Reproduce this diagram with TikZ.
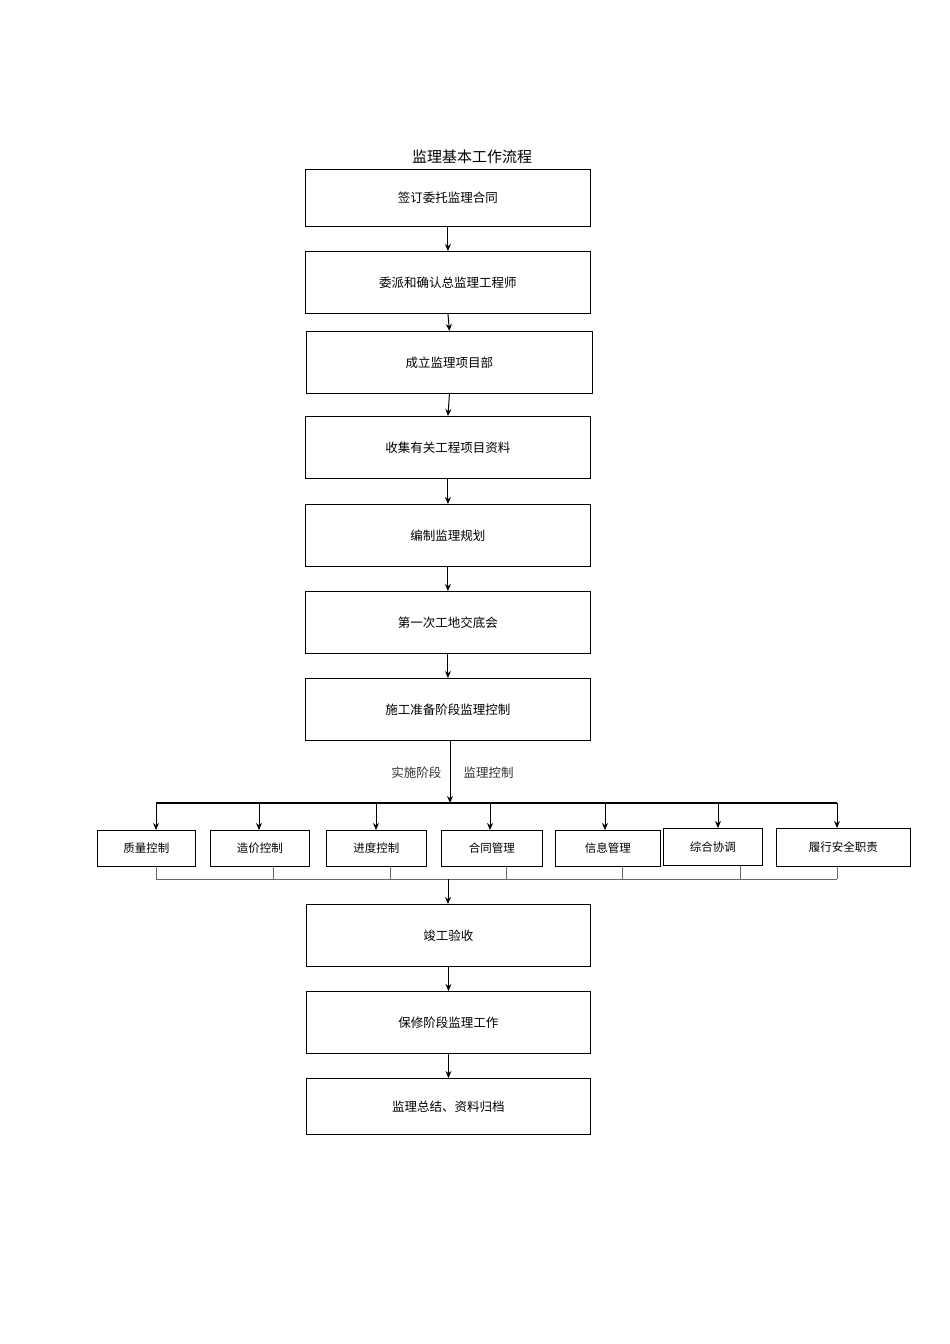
\documentclass[tikz,border=0pt]{standalone}
\usepackage{fontspec}
\newfontfamily\cjk{Noto Sans CJK SC}
\usetikzlibrary{arrows.meta}
\begin{document}
\begin{tikzpicture}[x=1pt,y=-1pt,
  mbox/.style={draw,line width=0.9pt,minimum width=285pt,minimum height=60pt,font=\cjk\fontsize{12.5}{14}\selectfont,anchor=north west,inner sep=0pt},
  sbox/.style={draw,line width=0.9pt,minimum height=36pt,font=\cjk\fontsize{11.5}{13}\selectfont,anchor=north west,inner sep=0pt},
  arr/.style={line width=1pt,-{Stealth[length=7pt,width=6pt]}},
  thin/.style={draw=black!60,line width=0.6pt}]
\useasboundingbox (0,0) rectangle (950,1344);
\node[font=\cjk\fontsize{15}{17}\selectfont] (t) at (472,157) {监理基本工作流程};
\node[mbox,minimum height=57pt] (b1) at (305,169) {签订委托监理合同};
\node[mbox,minimum height=62pt] (b2) at (305,251) {委派和确认总监理工程师};
\node[mbox,minimum height=62pt,minimum width=286pt] (b3) at (306,331) {成立监理项目部};
\node[mbox,minimum height=62pt] (b4) at (305,416) {收集有关工程项目资料};
\node[mbox,minimum height=62pt] (b5) at (305,504) {编制监理规划};
\node[mbox,minimum height=62pt] (b6) at (305,591) {第一次工地交底会};
\node[mbox,minimum height=62pt] (b7) at (305,678) {施工准备阶段监理控制};
\node[mbox,minimum height=62pt,minimum width=284pt] (b8) at (306,904) {竣工验收};
\node[mbox,minimum height=62pt,minimum width=284pt] (b9) at (306,991) {保修阶段监理工作};
\node[mbox,minimum height=56pt,minimum width=284pt] (b10) at (306,1078) {监理总结、资料归档};
\foreach \a/\b in {b1/b2,b2/b3,b3/b4,b4/b5,b5/b6,b6/b7,b8/b9,b9/b10}
  \draw[arr] (\a.south) -- (\b.north);
\node[sbox,minimum width=98pt] (s1) at (97,830) {质量控制};
\node[sbox,minimum width=99pt] (s2) at (210,830) {造价控制};
\node[sbox,minimum width=100pt] (s3) at (326,830) {进度控制};
\node[sbox,minimum width=101pt] (s4) at (441,830) {合同管理};
\node[sbox,minimum width=105pt] (s5) at (555,830) {信息管理};
\node[sbox,minimum width=99pt,minimum height=37pt] (s6) at (663,828) {综合协调};
\node[sbox,minimum width=134pt,minimum height=38pt] (s7) at (776,828) {履行安全职责};
\coordinate (j) at (450,803);
\draw[arr] (b7.south -| j) -- (j);
\node[font=\cjk\fontsize{12.5}{14}\selectfont,anchor=east,text=black!80] (la) at (445,773) {实施阶段};
\node[font=\cjk\fontsize{12.5}{14}\selectfont,anchor=west,text=black!80] (lb) at (460,773) {监理控制};
\draw[line width=2pt] (156,803) -- (837,803);
\foreach \x/\s in {156/s1,259/s2,376/s3,490/s4,605/s5,718/s6,837/s7}
  \draw[arr] (\x,803) -- (\x,0 |- \s.north);
\draw[thin] (156,879) -- (837,879);
\foreach \x in {156,273,390,506,622,740,837}
  \draw[thin] (\x,866) -- (\x,879);
\coordinate (k) at (448,879);
\draw[arr] (k) -- (b8.north -| k);
\end{tikzpicture}
\end{document}
